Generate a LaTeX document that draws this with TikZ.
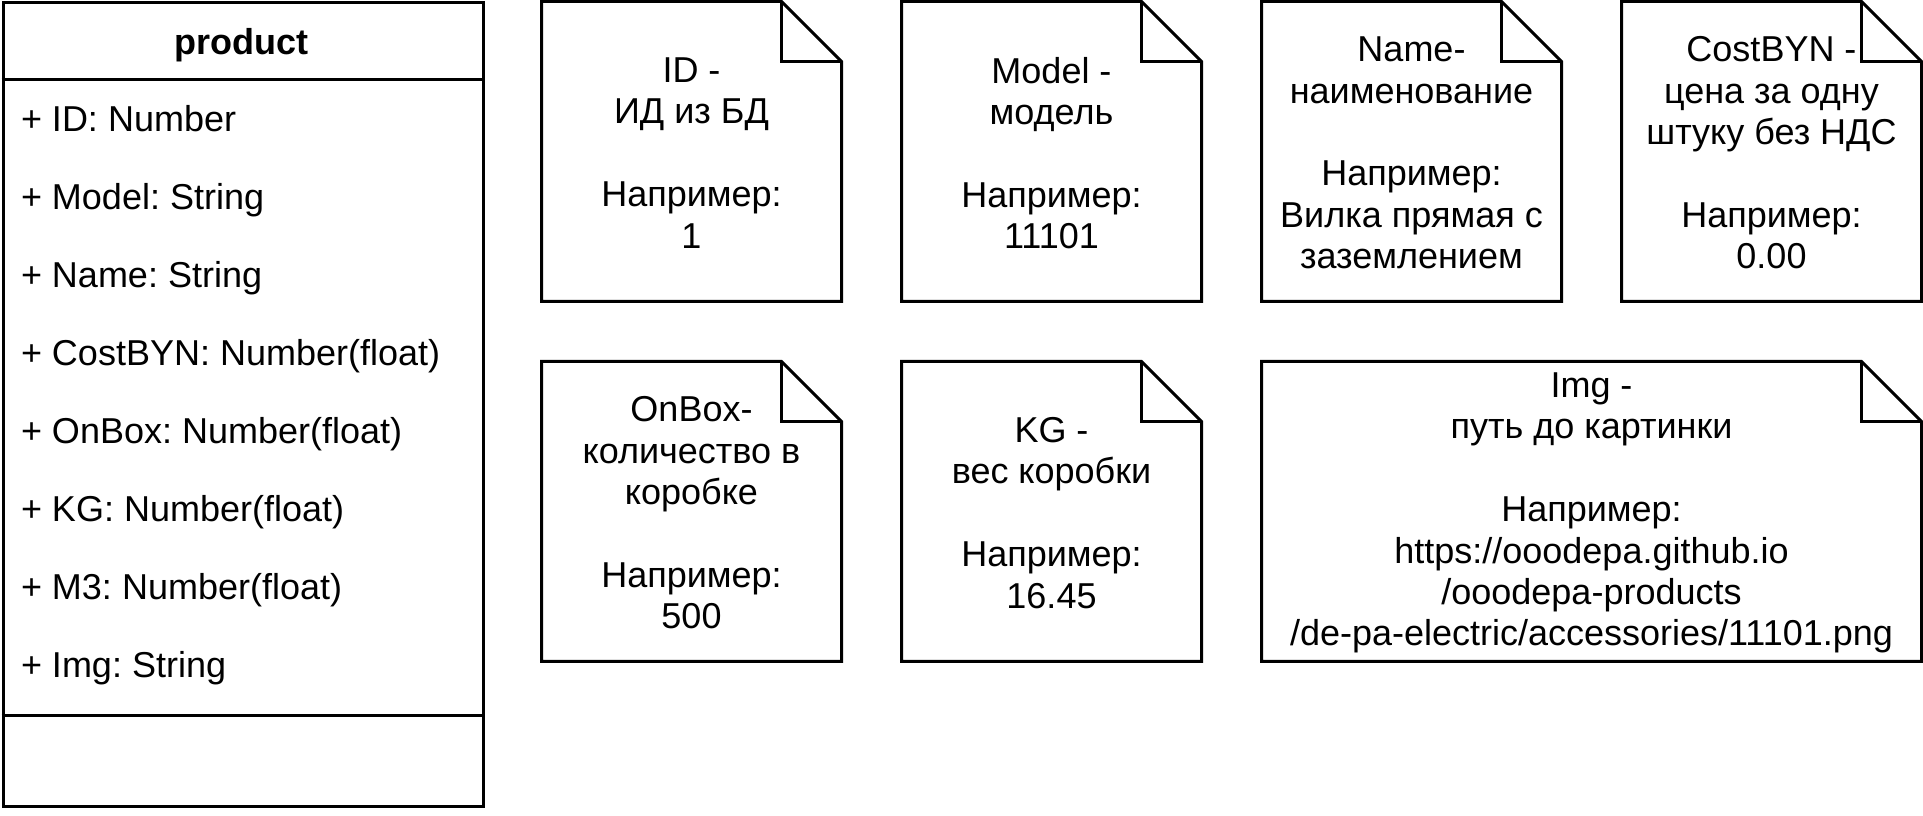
\documentclass[tikz,border=0pt]{standalone}
\usepackage{fontspec}
\setmainfont{Liberation Sans}
\frenchspacing
\usetikzlibrary{calc}

\tikzset{
  notetext/.style={align=center, inner sep=0pt, font=\fontsize{12}{13.8}\selectfont},
  attrtext/.style={anchor=base west, inner sep=0pt, font=\fontsize{12}{13.8}\selectfont},
  classbox/.style={draw, anchor=north west, minimum width=160pt, minimum height=268pt, inner sep=0pt}
}
\newcommand{\docnote}[5]{%
  \draw (#1,#2) -- ++(#3-20,0) -- ++(20,-20) -- ++(0,-80) -- ++(-#3,0) -- cycle;
  \draw (#1+#3-20,#2) -- ++(0,-20) -- ++(20,0);
  \node[notetext] (#4) at (#1+#3/2,#2-50.5) {#5};
}

\begin{document}
\begin{tikzpicture}[x=1pt, y=1pt, line width=1pt]
            \useasboundingbox (0,0) rectangle (641,-272);
            \node[classbox] (product) at (0.5,-0.5) {};
            \draw (0.5,-26.5) -- (160.5,-26.5);
            \draw (0.5,-238.5) -- (160.5,-238.5);
            \node[font=\fontsize{12}{13.8}\selectfont\bfseries] (title) at (80.5,-15) {product};
            \foreach \attr [count=\i] in {{+ ID: Number}, {+ Model: String}, {+ Name: String}, {+ CostBYN: Number(float)}, {+ OnBox: Number(float)}, {+ KG: Number(float)}, {+ M3: Number(float)}, {+ Img: String}}
                \node[attrtext] (attr\i) at (6.5,{-43.8-26*(\i-1)}) {\attr};
            \docnote{180.5}{-0.5}{100}{noteid}{ID -\\ИД из БД\\[13.8pt]Например:\\1}
            \docnote{300.5}{-0.5}{100}{notemodel}{Model -\\модель\\[13.8pt]Например:\\11101}
            \docnote{420.5}{-0.5}{100}{notename}{Name-\\наименование\\[13.8pt]Например:\\Вилка прямая с\\заземлением}
            \docnote{540.5}{-0.5}{100}{notecost}{CostBYN -\\цена за одну\\штуку без НДС\\[13.8pt]Например:\\0.00}
            \docnote{180.5}{-120.5}{100}{noteonbox}{OnBox-\\количество в\\коробке\\[13.8pt]Например:\\500}
            \docnote{300.5}{-120.5}{100}{notekg}{KG -\\вес коробки\\[13.8pt]Например:\\16.45}
            \docnote{420.5}{-120.5}{220}{noteimg}{Img -\\путь до картинки\\[13.8pt]Например:\\https://ooodepa.github.io\\/ooodepa-products\\/de-pa-electric/accessories/11101.png}
\end{tikzpicture}
\end{document}
